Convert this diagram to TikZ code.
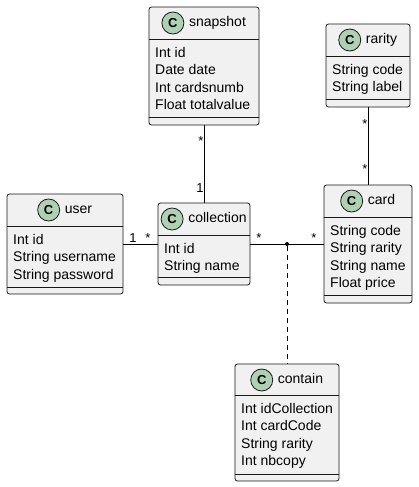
\documentclass[tikz,border=0pt]{standalone}
\usepackage{fontspec}
\setmainfont{Liberation Sans}
\usetikzlibrary{fit}

\definecolor{classfill}{HTML}{F1F1F1}
\definecolor{classline}{HTML}{181818}
\definecolor{iconfill}{HTML}{ADD1B2}

\begin{document}
\begin{tikzpicture}[
    % Pixel-like units
    x=1pt, y=-1pt,
    every node/.style={
        font=\fontsize{14}{17.3}\selectfont,
        inner sep=0pt
    },
    % Class boxes
    classbox/.style={
        draw=classline,
        fill=classfill,
        rounded corners=2.5pt,
        line width=0.8pt
    },
    divider/.style={draw=classline, line width=0.8pt},
    classname/.style={text height=10pt, text depth=3pt},
    classicon/.style={
        circle,
        draw=classline,
        fill=iconfill,
        line width=0.8pt,
        minimum size=22pt,
        font=\fontsize{13}{13}\selectfont\bfseries
    },
    % fields sit on the baseline of their last line
    fields/.style={anchor=base west, align=left},
    % Connectors
    assoc/.style={line width=0.8pt},
    assocdot/.style={circle, fill=black, minimum size=4pt},
    mult/.style={anchor=base, font=\fontsize{13}{13}\selectfont}
]
    \useasboundingbox (0,0) rectangle (418,487);

    % Snapshot class
    \node[classbox, fit={(149,7) (259,125)}] (snapshot) {};
    \draw[divider] (149,39) -- (259,39);
    \draw[divider] (149,117) -- (259,117);
    \node[classname] (snapshot-name) at (204,23) {\hspace{27pt}snapshot};
    \node[classicon] (snapshot-icon) at ([xshift=11pt]snapshot-name.west) {C};
    \node[fields] (snapshot-fields) at (155,109.4) {Int id\\Date date\\Int cardsnumb\\Float totalvalue};

    % Rarity class
    \node[classbox, fit={(326,24) (410,107)}] (rarity) {};
    \draw[divider] (326,56) -- (410,56);
    \draw[divider] (326,99) -- (410,99);
    \node[classname] (rarity-name) at (368,40) {\hspace{27pt}rarity};
    \node[classicon] (rarity-icon) at ([xshift=11pt]rarity-name.west) {C};
    \node[fields] (rarity-fields) at (332,91.8) {String code\\String label};

    % User class
    \node[classbox, fit={(7,194) (123,294)}] (user) {};
    \draw[divider] (7,226) -- (123,226);
    \draw[divider] (7,287) -- (123,287);
    \node[classname] (user-name) at (65,210) {\hspace{27pt}user};
    \node[classicon] (user-icon) at ([xshift=11pt]user-name.west) {C};
    \node[fields] (user-fields) at (13,279.1) {Int id\\String username\\String password};

    % Collection class
    \node[classbox, fit={(158,203) (250,285)}] (collection) {};
    \draw[divider] (158,235) -- (250,235);
    \draw[divider] (158,277) -- (250,277);
    \node[classname] (collection-name) at (204,219) {\hspace{27pt}collection};
    \node[classicon] (collection-icon) at ([xshift=11pt]collection-name.west) {C};
    \node[fields] (collection-fields) at (164,270.8) {Int id\\String name};

    % Card class
    \node[classbox, fit={(324,185) (412,303)}] (card) {};
    \draw[divider] (324,217) -- (412,217);
    \draw[divider] (324,295) -- (412,295);
    \node[classname] (card-name) at (368,201) {\hspace{27pt}card};
    \node[classicon] (card-icon) at ([xshift=11pt]card-name.west) {C};
    \node[fields] (card-fields) at (330,287.4) {String code\\String rarity\\String name\\Float price};

    % Contain class
    \node[classbox, fit={(235,364) (339,481)}] (contain) {};
    \draw[divider] (235,395) -- (339,395);
    \draw[divider] (235,474) -- (339,474);
    \node[classname] (contain-name) at (287,380) {\hspace{27pt}contain};
    \node[classicon] (contain-icon) at ([xshift=11pt]contain-name.west) {C};
    \node[fields] (contain-fields) at (241,465.4) {Int idCollection\\Int cardCode\\String rarity\\Int nbcopy};

    % Associations
    \node[assocdot] (link) at (287,244) {};
    \draw[assoc] (snapshot) -- (collection);
    \draw[assoc] (rarity) -- (card);
    \draw[assoc] (user) -- (collection);
    \draw[assoc] (collection) -- (card);
    \draw[assoc, dash pattern=on 5pt off 4pt] (link) -- (contain);

    % Multiplicities
    \node[mult] (m-snapshot) at (201,145) {*};
    \node[mult] (m-snapcoll) at (200,192.5) {1};
    \node[mult] (m-rarity) at (365,128) {*};
    \node[mult] (m-raritycard) at (365,173) {*};
    \node[mult] (m-user) at (133,242) {1};
    \node[mult] (m-usercoll) at (148,242) {*};
    \node[mult] (m-collection) at (259,242) {*};
    \node[mult] (m-card) at (314,242) {*};
\end{tikzpicture}
\end{document}
